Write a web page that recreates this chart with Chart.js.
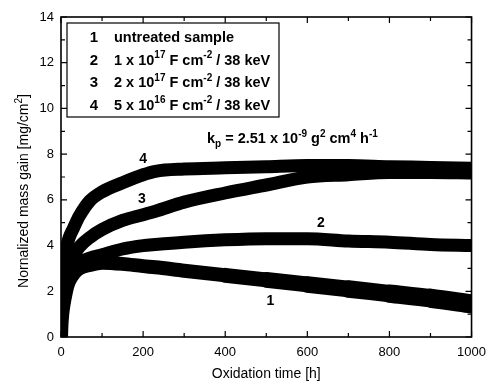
<!DOCTYPE html>
<html>
<head>
<meta charset="utf-8">
<script src="https://cdn.jsdelivr.net/npm/chart.js@4.4.0/dist/chart.umd.min.js"></script>
<style>
  html, body { margin: 0; padding: 0; background: #fff; }
  #wrap { width: 494px; height: 382px; }
</style>
</head>
<body>
<div id="wrap"><canvas id="massGainChart" width="494" height="382"></canvas></div>
<script>
// oxidation time [h]
const timeH = [0, 1, 3, 6, 10, 15, 20, 30, 45, 70, 100, 150, 200, 230, 300, 400, 500, 600, 700, 800, 900, 1000];
// normalized mass gain [mg/cm2] per sample
const untreated = [0, 0.5, 1.0, 1.4, 1.8, 2.2, 2.45, 2.75, 3.0, 3.15, 3.25, 3.2, 3.1, 3.05, 2.9, 2.7, 2.5, 2.3, 2.1, 1.9, 1.7, 1.45];
const dose1e17 = [0, 0.7, 1.3, 1.8, 2.2, 2.5, 2.75, 3.0, 3.25, 3.45, 3.6, 3.85, 4.0, 4.05, 4.15, 4.25, 4.3, 4.3, 4.2, 4.15, 4.05, 4.0];
const dose2e17 = [0, 1.0, 1.8, 2.4, 2.8, 3.1, 3.3, 3.55, 3.95, 4.35, 4.7, 5.1, 5.35, 5.5, 5.9, 6.3, 6.65, 7.0, 7.1, 7.2, 7.2, 7.18];
const dose5e16 = [0, 1.8, 2.8, 3.3, 3.7, 4.05, 4.35, 4.75, 5.3, 5.95, 6.35, 6.75, 7.1, 7.25, 7.35, 7.4, 7.45, 7.5, 7.5, 7.45, 7.42, 7.38];

const xTicks = [0, 200, 400, 600, 800, 1000];
const yTicks = [0, 2, 4, 6, 8, 10, 12, 14];

// legend rows: number, text, superscript, text, superscript, text
const legendRows = [
  ["1", "untreated sample", "", "", "", ""],
  ["2", "1 x 10", "17", " F cm", "-2", " / 38 keV"],
  ["3", "2 x 10", "17", " F cm", "-2", " / 38 keV"],
  ["4", "5 x 10", "16", " F cm", "-2", " / 38 keV"],
];
// curve number labels at data coords
const curveLabels = [
  { text: "1", x: 510, y: 1.6 },
  { text: "2", x: 633, y: 5.05 },
  { text: "3", x: 197, y: 6.1 },
  { text: "4", x: 200, y: 7.85 },
];

const toPoints = (vals) => vals.map((v, i) => ({ x: timeH[i], y: v }));
const FONT = "'Liberation Sans', Arial, sans-serif";

// draws text pieces with superscripts / subscripts
function drawRich(ctx, x, y, parts, size) {
  let cx = x;
  parts.forEach((p) => {
    if (!p.t) return;
    const s = p.sup || p.sub ? Math.round(size * 0.68) : size;
    ctx.font = "bold " + s + "px " + FONT;
    const dy = p.sup ? -size * 0.42 : p.sub ? size * 0.3 : 0;
    ctx.fillText(p.t, cx, y + dy);
    cx += ctx.measureText(p.t).width;
  });
}

const framePlugin = {
  id: "frame",
  afterDraw(chart) {
    const { ctx, chartArea: a, scales } = chart;
    const xs = scales.x, ys = scales.y;
    ctx.save();
    ctx.strokeStyle = "#000";
    ctx.lineWidth = 1.6;
    ctx.strokeRect(a.left, a.top, a.right - a.left, a.bottom - a.top);

    // inward ticks on all four sides
    ctx.lineWidth = 1.2;
    ctx.beginPath();
    for (let v = 0; v <= 1000; v += 100) {
      const px = xs.getPixelForValue(v);
      const len = v % 200 === 0 ? 6 : 4;
      ctx.moveTo(px, a.bottom); ctx.lineTo(px, a.bottom - len);
      ctx.moveTo(px, a.top); ctx.lineTo(px, a.top + len);
    }
    for (let v = 0; v <= 14; v += 1) {
      const py = ys.getPixelForValue(v);
      const len = v % 2 === 0 ? 6 : 4;
      ctx.moveTo(a.left, py); ctx.lineTo(a.left + len, py);
      ctx.moveTo(a.right, py); ctx.lineTo(a.right - len, py);
    }
    ctx.stroke();

    // axis titles
    ctx.fillStyle = "#000";
    ctx.font = "14px " + FONT;
    ctx.textAlign = "center";
    ctx.textBaseline = "alphabetic";
    ctx.fillText("Oxidation time [h]", (a.left + a.right) / 2, 378);

    ctx.save();
    ctx.translate(28, 191);
    ctx.rotate(-Math.PI / 2);
    ctx.font = "14px " + FONT;
    const main = "Nornalized mass gain [mg/cm";
    const wMain = ctx.measureText(main).width;
    ctx.font = "10px " + FONT;
    const wSup = ctx.measureText("2").width;
    ctx.font = "14px " + FONT;
    const wEnd = ctx.measureText("]").width;
    const start = -(wMain + wSup + wEnd) / 2;
    ctx.textAlign = "left";
    ctx.fillText(main, start, 0);
    ctx.font = "10px " + FONT;
    ctx.fillText("2", start + wMain, -6);
    ctx.font = "14px " + FONT;
    ctx.fillText("]", start + wMain + wSup, 0);
    ctx.restore();

    // legend box
    const bx = 67, by = 23, bw = 212, bh = 94;
    ctx.fillStyle = "#fff";
    ctx.fillRect(bx, by, bw, bh);
    ctx.lineWidth = 1.2;
    ctx.strokeRect(bx, by, bw, bh);
    ctx.fillStyle = "#000";
    legendRows.forEach((r, i) => {
      const y = by + 19 + i * 22.5;
      ctx.font = "bold 15px " + FONT;
      ctx.textAlign = "center";
      ctx.fillText(r[0], 94, y);
      ctx.textAlign = "left";
      drawRich(ctx, 114, y, [
        { t: r[1] }, { t: r[2], sup: true }, { t: r[3] }, { t: r[4], sup: true }, { t: r[5] },
      ], 14.5);
    });

    // curve numbers
    ctx.textAlign = "center";
    ctx.font = "bold 14px " + FONT;
    curveLabels.forEach((l) => {
      ctx.fillText(l.text, xs.getPixelForValue(l.x), ys.getPixelForValue(l.y) + 5);
    });

    // parabolic rate constant
    ctx.textAlign = "left";
    drawRich(ctx, 207, 143, [
      { t: "k" }, { t: "p", sub: true }, { t: " = 2.51 x 10" }, { t: "-9", sup: true },
      { t: " g" }, { t: "2", sup: true }, { t: " cm" }, { t: "4", sup: true },
      { t: " h" }, { t: "-1", sup: true },
    ], 14.5);
    ctx.restore();
  },
};

const curve = (vals, w) => ({
  data: toPoints(vals),
  borderColor: "#000",
  borderWidth: w,
  pointRadius: 0,
  cubicInterpolationMode: "monotone",
  borderCapStyle: "butt",
  borderJoinStyle: "round",
  fill: false,
  clip: 0,
});

// untreated band gets wider (more scatter) towards long times
const untreatedCurve = curve(untreated, 14);
untreatedCurve.borderCapStyle = "round";
untreatedCurve.segment = {
  borderWidth: (c) => 14 + 6 * Math.max(0, (c.p0.parsed.x - 300) / 700),
};

new Chart(document.getElementById("massGainChart"), {
  type: "line",
  data: {
    datasets: [
      untreatedCurve,
      curve(dose1e17, 13),
      curve(dose2e17, 13),
      curve(dose5e16, 13),
    ],
  },
  options: {
    responsive: false,
    animation: false,
    layout: { padding: { top: 17, right: 13, left: 0, bottom: 0 } },
    plugins: { legend: { display: false }, tooltip: { enabled: false } },
    scales: {
      x: {
        type: "linear",
        min: 0,
        max: 1000,
        afterBuildTicks: (s) => { s.ticks = xTicks.map((v) => ({ value: v })); },
        afterFit: (s) => { s.height = 45; },
        grid: { display: false, drawTicks: false },
        border: { display: false },
        ticks: {
          color: "#000", font: { family: FONT, size: 13 }, padding: 8, maxRotation: 0,
          callback: (v) => String(v),
        },
      },
      y: {
        min: 0,
        max: 14,
        afterBuildTicks: (s) => { s.ticks = yTicks.map((v) => ({ value: v })); },
        afterFit: (s) => { s.width = 61; },
        grid: { display: false, drawTicks: false },
        border: { display: false },
        ticks: { color: "#000", font: { family: FONT, size: 13 }, padding: 7 },
      },
    },
  },
  plugins: [framePlugin],
});
</script>
</body>
</html>
